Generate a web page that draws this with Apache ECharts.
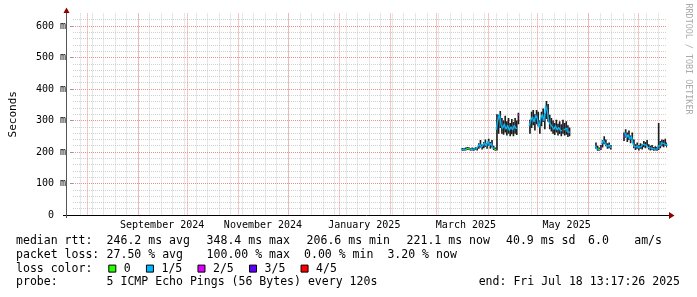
<!DOCTYPE html>
<html><head><meta charset="utf-8">
<script src="https://cdn.jsdelivr.net/npm/echarts@6/dist/echarts.min.js"></script>
<style>html,body{margin:0;padding:0;background:#fff}#c{width:697px;height:297px}</style>
</head><body><div id="c"></div>
<script>
const DAY = 86400000;
const rangeStart = Date.UTC(2024, 6, 23, 13, 17, 26);
const rangeEnd = Date.UTC(2025, 6, 18, 13, 17, 26);
const firstDataDay = Date.UTC(2025, 2, 16);

const yTicks = [0, 100, 200, 300, 400, 500, 600];
const yTickLabels = ['0  ', '100 m', '200 m', '300 m', '400 m', '500 m', '600 m'];
const xLabelDates = ['2024-09-15T14:00:00Z', '2024-11-15T17:00:00Z', '2025-01-16T02:00:00Z', '2025-03-18T17:00:00Z', '2025-05-18T17:00:00Z'];
const xLabels = ['September 2024', 'November 2024', 'January 2025', 'March 2025', 'May 2025'];

// daily median rtt (ms), one value per day from 2025-03-16, null = no data
const median = [
  208,207,209,211,210,207,209,208,210,209,218,226,215,222,230,218,235,220,228,212,208,270,300,322,285,275,290,272,285,268,280,270,285,275,318,
  null,null,null,null,null,null,
  282,300,312,295,318,305,278,305,320,298,348,330,295,288,280,272,283,270,278,268,282,270,276,265,262,
  null,null,null,null,null,null,null,null,null,null,null,null,null,null,null,
  220,210,208,212,225,238,228,218,222,215,
  null,null,null,null,null,null,null,
  250,262,245,255,240,250,225,215,220,213,218,215,225,222,228,215,212,214,209,211,210,218,222,230,226,232,221
];
const smokeLo = [
  204,204,205,206,206,204,205,204,206,205,210,214,208,212,216,210,220,210,214,206,204,205,258,276,258,255,262,252,258,250,256,250,258,254,288,
  null,null,null,null,null,null,
  258,276,285,268,288,282,258,282,295,272,305,296,272,265,258,254,262,252,257,250,258,252,255,248,250,
  null,null,null,null,null,null,null,null,null,null,null,null,null,null,null,
  210,204,204,206,214,225,218,210,212,208,
  null,null,null,null,null,null,null,
  235,245,232,238,228,238,212,206,210,205,210,208,215,212,218,208,205,207,204,205,204,206,212,218,215,220,214
];
const smokeHi = [
  213,212,214,216,215,212,214,213,215,214,228,238,224,232,240,228,242,232,238,220,214,320,318,330,308,300,315,298,308,292,305,295,308,300,325,
  null,null,null,null,null,null,
  302,328,333,320,333,328,300,328,338,322,362,352,318,308,300,292,302,290,298,288,302,292,298,285,278,
  null,null,null,null,null,null,null,null,null,null,null,null,null,null,null,
  230,220,214,222,238,250,240,228,230,222,
  null,null,null,null,null,null,null,
  262,272,262,268,252,262,240,225,230,222,228,225,235,232,238,225,220,222,216,218,216,292,235,240,238,242,230
];
// lost pings out of 5 per day
const loss = [
  1,1,1,0,0,1,1,1,1,1,1,1,1,1,1,1,1,1,1,1,0,1,1,1,1,1,1,1,1,1,1,1,1,1,2,
  null,null,null,null,null,null,
  1,1,1,1,1,1,1,1,1,1,1,1,1,1,1,1,1,1,1,1,3,1,1,1,1,
  null,null,null,null,null,null,null,null,null,null,null,null,null,null,null,
  1,1,0,2,1,1,1,1,1,1,
  null,null,null,null,null,null,null,
  2,1,1,1,1,1,1,1,1,1,1,1,1,1,1,1,1,1,1,1,1,1,1,1,1,1,1
];
const lossColors = ['#26ff00', '#00b8ff', '#dd00ff', '#5e00ff', '#ff0000'];
const lossLabels = ['0', '1/5', '2/5', '3/5', '4/5'];

const legendRow1 = ['median rtt:', '246.2 ms avg', '348.4 ms max', '206.6 ms min', '221.1 ms now', '40.9 ms sd', '6.0', 'am/s'];
const legendRow2 = ['packet loss:', '27.50 % avg', '100.00 % max', '0.00 % min', '3.20 % now'];
const legendRow3 = 'loss color:';
const legendRow4 = ['probe:', '5 ICMP Echo Pings (56 Bytes) every 120s'];
const legendEnd = 'end: Fri Jul 18 13:17:26 2025';
const watermark = 'RRDTOOL / TOBI OETIKER';

// ---- layout (pixel positions of legend blocks)
const row1X = [16, 106.6, 206.6, 306.6, 406.6, 506, 588, 634.2];
const row2X = [16, 106.6, 206.6, 304, 387.4];
const row4X = [16, 106.6];

// ---- grid helpers (gridline positions, not data)
const monthStarts = [];
for (let y = 2024, m = 7; y < 2025 || m <= 6; ) {
  monthStarts.push(Date.UTC(y, m, 1));
  m++; if (m > 11) { m = 0; y++; }
}
const weekLines = [];
for (let t = Date.UTC(2024, 6, 28); t < rangeEnd; t += 7 * DAY) weekLines.push(t);
const yMinor = [];
for (let v = 20; v <= 620; v += 20) if (v % 100) yMinor.push(v);
const xLabelVals = xLabelDates.map(s => Date.parse(s));

const MONO = '"DejaVu Sans Mono", monospace';
const G = { left: 66, right: 30, top: 13.4, bottom: 82 };
const MAJOR = '#ee9090', MINOR = '#d0d0d0';

const smokeData = [];
median.forEach((m, i) => {
  if (smokeLo[i] != null) smokeData.push([firstDataDay + i * DAY, smokeLo[i], smokeHi[i]]);
});

const levelSeries = lossColors.map((c, L) => {
  const d = [];
  for (let i = 0; i < median.length; i++) {
    if (median[i] == null || loss[i] !== L) {
      if (d.length && d[d.length - 1][1] !== null) d.push([firstDataDay + i * DAY, null]);
      continue;
    }
    const t = firstDataDay + i * DAY;
    d.push([t, median[i]], [t + DAY, median[i]]);
  }
  return {
    type: 'line', name: lossLabels[L], data: d, symbol: 'none', showSymbol: false,
    connectNulls: false, lineStyle: { color: c, width: 1.3 }, z: 7, silent: true,
    xAxisIndex: 0, yAxisIndex: 0
  };
});

const chart = echarts.init(document.getElementById('c'), null, { renderer: 'canvas' });
const W = 697, H = 297;
const plotR = W - G.right, plotB = H - G.bottom;

const graphics = [];
const rowY = [241, 255.3, 268.6, 282.3];
const fontL = '11.54px ' + MONO;
const CW = 6.946;
const addText = (text, x, y, extra) => graphics.push({ type: 'text', style: Object.assign({ text, x, y, font: fontL, fill: '#000', verticalAlign: 'middle' }, extra || {}) });
legendRow1.forEach((s, i) => addText(s, row1X[i], rowY[0]));
legendRow2.forEach((s, i) => addText(s, row2X[i], rowY[1]));
addText(legendRow3, 16, rowY[2]);
let bx = 108.3;
lossLabels.forEach((lab, i) => {
  graphics.push({ type: 'rect', shape: { x: bx + 0.5, y: rowY[2] - 3.5, width: 7, height: 7 }, style: { fill: lossColors[i], stroke: '#000', lineWidth: 1 } });
  const tx = bx + 15.5;
  addText(lab, tx, rowY[2]);
  bx = tx + lab.length * CW + 15.2;
});
legendRow4.forEach((s, i) => addText(s, row4X[i], rowY[3]));
addText(legendEnd, 680, rowY[3], { align: 'right' });
graphics.push({ type: 'text', rotation: -Math.PI / 2, x: 688.5, y: 59, style: { text: watermark, x: 0, y: 0, font: '8.4px ' + MONO, fill: '#aaaaaa', align: 'center', verticalAlign: 'middle' } });
// axis lines (slightly extended past the plot like rrdtool) and arrows
graphics.push({ type: 'line', shape: { x1: G.left - 3, y1: plotB + 0.5, x2: plotR + 3, y2: plotB + 0.5 }, style: { stroke: '#000', lineWidth: 1 }, z: 10 });
graphics.push({ type: 'line', shape: { x1: G.left + 0.5, y1: plotB + 3, x2: G.left + 0.5, y2: G.top - 1 }, style: { stroke: '#555', lineWidth: 1 }, z: 10 });
graphics.push({ type: 'polygon', shape: { points: [[plotR + 2, plotB - 3], [plotR + 7.5, plotB + 0.5], [plotR + 2, plotB + 4]] }, style: { fill: '#8b0000' }, z: 11 });
graphics.push({ type: 'polygon', shape: { points: [[G.left - 2.5, G.top - 0.5], [G.left + 0.5, G.top - 6], [G.left + 3.5, G.top - 0.5]] }, style: { fill: '#8b0000' }, z: 11 });

const axisLabelBase = { color: '#000', fontFamily: MONO, fontSize: 10 };

chart.setOption({
  animation: false,
  backgroundColor: '#fff',
  grid: G,
  xAxis: [
    {
      type: 'value', min: rangeStart, max: rangeEnd, position: 'bottom', z: 3,
      axisLine: { show: false },
      axisTick: { show: false, customValues: monthStarts },
      axisLabel: Object.assign({}, axisLabelBase, {
        customValues: xLabelVals, margin: 5, hideOverlap: false,
        formatter: v => { const k = xLabelVals.indexOf(v); return k >= 0 ? xLabels[k] : ''; }
      }),
      splitLine: { show: true, lineStyle: { color: MAJOR, width: 1, type: [1, 1] } }
    },
    {
      type: 'value', min: rangeStart, max: rangeEnd, position: 'bottom', z: 2,
      axisLine: { show: false }, axisLabel: { show: false },
      axisTick: { show: false, customValues: weekLines },
      splitLine: { show: true, lineStyle: { color: MINOR, width: 1, type: [1, 1] } }
    }
  ],
  yAxis: [
    {
      type: 'value', min: 0, max: 640, z: 3,
      name: 'Seconds', nameLocation: 'middle', nameRotate: 90, nameGap: 54,
      nameTextStyle: { color: '#000', fontFamily: MONO, fontSize: 11 },
      axisLine: { show: false },
      axisTick: { show: true, length: 3, customValues: yTicks, lineStyle: { color: '#999' } },
      axisLabel: Object.assign({}, axisLabelBase, {
        customValues: yTicks, margin: 7,
        formatter: v => { const k = yTicks.indexOf(v); return k >= 0 ? yTickLabels[k] : ''; }
      }),
      splitLine: { show: true, lineStyle: { color: MAJOR, width: 1, type: [1, 1] } }
    },
    {
      type: 'value', min: 0, max: 640, z: 2, position: 'left',
      axisLine: { show: false }, axisLabel: { show: false },
      axisTick: { show: false, customValues: yMinor },
      splitLine: { show: true, lineStyle: { color: MINOR, width: 1, type: [1, 1] } }
    }
  ],
  series: [
    {
      type: 'custom', name: 'smoke', xAxisIndex: 0, yAxisIndex: 0, z: 6, silent: true, clip: true,
      data: smokeData,
      encode: { x: 0, y: [1, 2] },
      renderItem: (params, api) => {
        const t = api.value(0);
        const p0 = api.coord([t, api.value(2)]);
        const p1 = api.coord([t + DAY, api.value(1)]);
        return { type: 'rect', shape: { x: p0[0], y: p0[1], width: Math.max(1, p1[0] - p0[0]), height: p1[1] - p0[1] }, style: { fill: '#1e1e1e' } };
      },
      markLine: {
        silent: true, symbol: 'none', z: 4, animation: false,
        label: { show: false },
        lineStyle: { color: MAJOR, width: 1, type: [1, 1] },
        data: yTicks.filter(v => v > 0).map(v => ({ yAxis: v }))
      }
    }
  ].concat(levelSeries),
  graphic: graphics
});
</script></body></html>
